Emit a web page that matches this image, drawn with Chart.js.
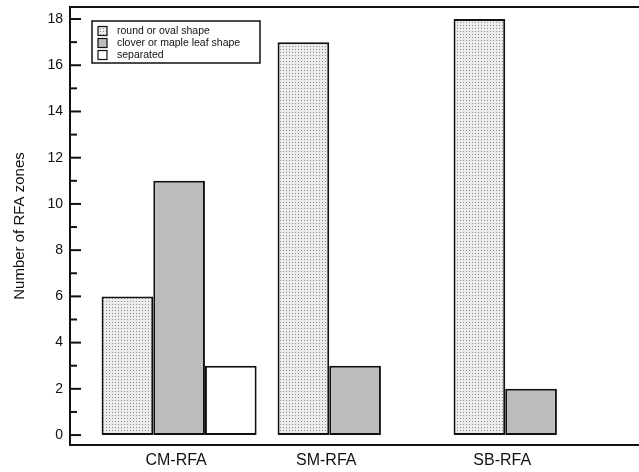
<!DOCTYPE html>
<html>
<head>
<meta charset="utf-8">
<script src="https://cdn.jsdelivr.net/npm/chart.js@4.4.1/dist/chart.umd.min.js"></script>
<style>
  html, body { margin: 0; padding: 0; background: #fff; overflow: hidden; }
  #wrap { width: 700px; height: 472px; }
</style>
</head>
<body>
<div id="wrap"><canvas id="chart" width="700" height="472"></canvas></div>
<script>
// Data
const categories = ["CM-RFA", "SM-RFA", "SB-RFA"];
const seriesNames = ["round or oval shape", "clover or maple leaf shape", "separated"];
const roundOval = [6, 17, 18];
const cloverMaple = [11, 3, 2];
const separated = [3, null, null];
const yTicks = [0, 2, 4, 6, 8, 10, 12, 14, 16, 18];

const FONT = "'Liberation Sans', Arial, sans-serif";
const INK = "#111111";

// Fill patterns for the bars
function makePattern(w, h, paint) {
  const c = document.createElement("canvas");
  c.width = w;
  c.height = h;
  paint(c.getContext("2d"));
  return c.getContext("2d").createPattern(c, "repeat");
}
const dotted = makePattern(3, 3, (g) => {
  g.fillStyle = "#ececec";
  g.fillRect(0, 0, 3, 3);
  g.fillStyle = "#8c8c8c";
  g.fillRect(1, 1, 1, 1);
});
const grey = makePattern(2, 2, (g) => {
  g.fillStyle = "#b6b6b6";
  g.fillRect(0, 0, 2, 2);
  g.fillStyle = "#c2c2c2";
  g.fillRect(0, 0, 1, 1);
  g.fillRect(1, 1, 1, 1);
});
const fills = [dotted, grey, "#ffffff"];

const toPoints = (arr) => arr.map((v, i) => ({ x: i + 1, y: v }));

// Frame line on top + inward major/minor ticks on the y axis
const framePlugin = {
  id: "frame",
  afterDraw(chart) {
    const { ctx, chartArea } = chart;
    const y = chart.scales.y;
    ctx.save();
    ctx.strokeStyle = INK;
    ctx.lineWidth = 2;
    ctx.beginPath();
    ctx.moveTo(chartArea.left - 1, chartArea.top);
    ctx.lineTo(chartArea.right, chartArea.top);
    ctx.stroke();
    yTicks.forEach((v, i) => {
      const py = y.getPixelForValue(v);
      ctx.beginPath();
      ctx.moveTo(chartArea.left, py);
      ctx.lineTo(chartArea.left + 11, py);
      ctx.stroke();
      if (i < yTicks.length - 1) {
        const my = y.getPixelForValue((v + yTicks[i + 1]) / 2);
        ctx.beginPath();
        ctx.moveTo(chartArea.left, my);
        ctx.lineTo(chartArea.left + 7, my);
        ctx.stroke();
      }
    });
    ctx.restore();
  },
};

// Category names centred under the bars that are drawn
const catLabelPlugin = {
  id: "catLabels",
  afterDraw(chart) {
    const { ctx, chartArea } = chart;
    const metas = chart.getSortedVisibleDatasetMetas();
    ctx.save();
    ctx.fillStyle = INK;
    ctx.font = "16px " + FONT;
    ctx.textAlign = "center";
    ctx.textBaseline = "middle";
    categories.forEach((name, i) => {
      const xs = [];
      metas.forEach((m) => {
        if (chart.data.datasets[m.index].data[i].y != null) xs.push(m.data[i].x);
      });
      const cx = xs.reduce((a, b) => a + b, 0) / xs.length;
      ctx.fillText(name, cx - 3, chartArea.bottom + 16);
    });
    ctx.restore();
  },
};

// Boxed legend inside the plot
const legendBoxPlugin = {
  id: "legendBox",
  afterDraw(chart) {
    const { ctx, chartArea } = chart;
    const x0 = chartArea.left + 22;
    const y0 = chartArea.top + 14;
    ctx.save();
    ctx.strokeStyle = INK;
    ctx.lineWidth = 1.5;
    ctx.strokeRect(x0, y0, 168, 42);
    ctx.font = "10.5px " + FONT;
    ctx.textBaseline = "middle";
    chart.data.datasets.forEach((ds, i) => {
      const cy = y0 + 10 + i * 12;
      ctx.fillStyle = ds.backgroundColor;
      ctx.fillRect(x0 + 6, cy - 4.5, 9, 9);
      ctx.lineWidth = 1.2;
      ctx.strokeRect(x0 + 6, cy - 4.5, 9, 9);
      ctx.fillStyle = INK;
      ctx.fillText(ds.label, x0 + 25, cy + 0.5);
    });
    ctx.restore();
  },
};

const ctx = document.getElementById("chart").getContext("2d");
new Chart(ctx, {
  type: "bar",
  data: {
    datasets: [roundOval, cloverMaple, separated].map((vals, i) => ({
      label: seriesNames[i],
      data: toPoints(vals),
      backgroundColor: fills[i],
      borderColor: INK,
      borderWidth: 2,
      borderSkipped: false,
      categoryPercentage: 0.881,
      barPercentage: 1.0,
    })),
  },
  options: {
    responsive: false,
    devicePixelRatio: 1,
    animation: false,
    layout: { padding: { top: 7, left: 0, right: 0, bottom: 0 } },
    plugins: { legend: { display: false }, tooltip: { enabled: false } },
    scales: {
      x: {
        type: "linear",
        min: 0.38,
        max: 3.96,
        offset: false,
        grid: { display: false },
        border: { display: true, color: INK, width: 2 },
        ticks: { display: false, stepSize: 1, includeBounds: false },
        afterFit: (scale) => {
          scale.height = 27;
          scale.paddingLeft = 0;
          scale.paddingRight = 0;
        },
      },
      y: {
        type: "linear",
        min: -0.43,
        max: 18.52,
        grid: { display: false, drawTicks: false },
        border: { display: true, color: INK, width: 2 },
        afterBuildTicks: (scale) => { scale.ticks = yTicks.map((v) => ({ value: v })); },
        ticks: { color: INK, font: { family: FONT, size: 14 }, padding: 7 },
        title: {
          display: true,
          text: "Number of RFA zones",
          color: INK,
          font: { family: FONT, size: 15 },
          padding: { top: 11, bottom: 0 },
        },
        afterFit: (scale) => {
          scale.width = 70;
          scale.paddingTop = 0;
          scale.paddingBottom = 0;
        },
      },
    },
  },
  plugins: [framePlugin, catLabelPlugin, legendBoxPlugin],
});
</script>
</body>
</html>
